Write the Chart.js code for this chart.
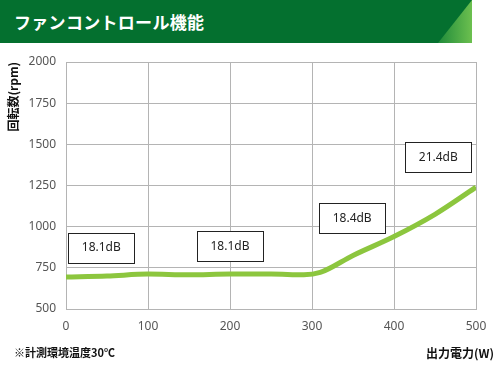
<!DOCTYPE html>
<html>
<head>
    <style>
        body {
            margin: 0;
            width: 500px;
            height: 378px;
            background: #fff;
            position: relative;
            overflow: hidden;
            font-family: "Noto Sans CJK JP", "Noto Sans", sans-serif;
        }
        .banner {
            position: absolute;
            left: 0;
            top: 0;
            width: 472px;
            height: 43px;
            background: #04702f;
        }
        .banner .corner {
            position: absolute;
            right: 0;
            top: 0;
            width: 34px;
            height: 43px;
            background: linear-gradient(to right, #1f8a3a, #6cc04f);
            clip-path: polygon(100% 0, 100% 100%, 0 100%);
        }
        .banner h1 {
            position: absolute;
            left: 14px;
            top: 9px;
            margin: 0;
            color: #fff;
            font-size: 17px;
            font-weight: bold;
            letter-spacing: 0.3px;
        }
        .note {
            position: absolute;
            top: 344px;
            font-size: 11px;
            font-weight: bold;
            color: #111;
        }
        #myChart {
            position: absolute;
            left: 0;
            top: 0;
        }
    </style>
    <script src="https://cdn.jsdelivr.net/npm/chart.js"></script>
</head>
<body>
    <div class="banner"><div class="corner"></div><h1>ファンコントロール機能</h1></div>
    <canvas id="myChart" width="500" height="378"></canvas>
    <div class="note" style="left:14px;">※計測環境温度30℃</div>
    <div class="note" style="right:6px; font-size:12px;">出力電力(W)</div>
    <script>
        // output power (W) and fan speed (rpm)
        var powerW = [0, 50, 100, 150, 200, 250, 290, 310, 350, 400, 450, 500];
        var fanRpm = [695, 700, 712, 708, 712, 712, 708, 722, 825, 940, 1075, 1240];
        var xTicks = [0, 100, 200, 300, 400, 500];
        var yTicks = [500, 750, 1000, 1250, 1500, 1750, 2000];

        // noise level labels, anchored at (W, rpm)
        var noiseText = ['18.1dB', '18.1dB', '18.4dB', '21.4dB'];
        var noiseAtW = [43, 200, 349, 454];
        var noiseAtRpm = [872, 881, 1052, 1421];

        var points = powerW.map(function (w, i) { return { x: w, y: fanRpm[i] }; });

        var noiseBoxes = {
            id: 'noiseBoxes',
            afterDatasetsDraw: function (chart) {
                var c = chart.ctx;
                var xs = chart.scales.x, ys = chart.scales.y;
                c.save();
                c.font = '12px "Noto Sans", sans-serif';
                c.textAlign = 'center';
                c.textBaseline = 'middle';
                noiseText.forEach(function (t, i) {
                    var cx = xs.getPixelForValue(noiseAtW[i]);
                    var cy = ys.getPixelForValue(noiseAtRpm[i]);
                    c.fillStyle = '#fff';
                    c.fillRect(cx - 33, cy - 15, 66, 30);
                    c.strokeStyle = '#222';
                    c.lineWidth = 1;
                    c.strokeRect(Math.round(cx - 33) + 0.5, Math.round(cy - 15) + 0.5, 66, 30);
                    c.fillStyle = '#222';
                    c.fillText(t, cx, cy);
                });
                c.restore();
            }
        };

        var ctx = document.getElementById('myChart').getContext('2d');
        var myChart = new Chart(ctx, {
            type: 'line',
            data: {
                datasets: [{
                    data: points,
                    borderColor: '#8cc63e',
                    borderWidth: 5,
                    pointRadius: 0,
                    tension: 0.4,
                    cubicInterpolationMode: 'monotone',
                    fill: false
                }]
            },
            plugins: [noiseBoxes],
            options: {
                responsive: false,
                animation: false,
                devicePixelRatio: 1,
                layout: { padding: { left: 0, right: 24, top: 62, bottom: 0 } },
                plugins: {
                    legend: { display: false },
                    tooltip: { enabled: false }
                },
                scales: {
                    x: {
                        type: 'linear',
                        min: 0,
                        max: 500,
                        afterBuildTicks: function (s) { s.ticks = xTicks.map(function (v) { return { value: v }; }); },
                        afterFit: function (s) { s.height = 69; },
                        grid: { color: '#b4b4b4', drawTicks: false },
                        border: { color: '#b4b4b4' },
                        ticks: {
                            padding: 10, color: '#555', font: { family: 'Noto Sans', size: 12 },
                            callback: function (v) { return String(v); }
                        }
                    },
                    y: {
                        min: 500,
                        max: 2000,
                        afterBuildTicks: function (s) { s.ticks = yTicks.map(function (v) { return { value: v }; }); },
                        afterFit: function (s) { s.width = 66; },
                        grid: { color: '#b4b4b4', drawTicks: false },
                        border: { color: '#b4b4b4' },
                        ticks: {
                            padding: 10, color: '#555', font: { family: 'Noto Sans', size: 12 },
                            callback: function (v) { return String(v); }
                        },
                        title: {
                            display: true,
                            text: '回転数(rpm)',
                            align: 'end',
                            color: '#111',
                            padding: { top: 6, bottom: 0 },
                            font: { family: 'Noto Sans CJK JP', size: 12, weight: 'bold' }
                        }
                    }
                }
            }
        });
    </script>
</body>
</html>
